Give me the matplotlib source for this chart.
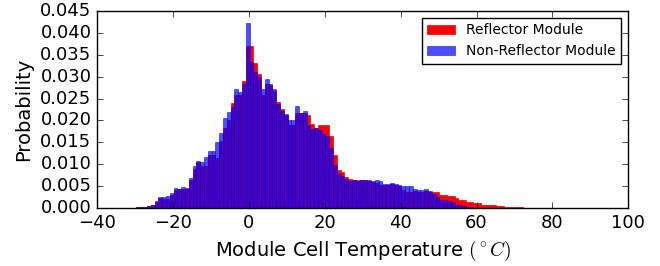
import numpy as np
import matplotlib
matplotlib.use('Agg')
import matplotlib.pyplot as plt
from matplotlib.ticker import MultipleLocator, FormatStrFormatter

# bin settings (1 degree bins)
bin_start = -30.8
bin_width = 1.0

# probability per bin, bins starting at -30.8 C
reflector = [
    0.0001, 0.0002, 0.0002, 0.0003, 0.0004, 0.0006, 0.0013, 0.0023, 0.0021, 0.0020,
    0.0030, 0.0041, 0.0044, 0.0043, 0.0044, 0.0064, 0.0090, 0.0105, 0.0097, 0.0096,
    0.0120, 0.0120, 0.0115, 0.0152, 0.0183, 0.0201, 0.0240, 0.0257, 0.0257, 0.0290,
    0.0370, 0.0370, 0.0330, 0.0306, 0.0258, 0.0282, 0.0281, 0.0267, 0.0242, 0.0227,
    0.0212, 0.0190, 0.0190, 0.0218, 0.0218, 0.0216, 0.0212, 0.0192, 0.0183, 0.0190,
    0.0190, 0.0190, 0.0164, 0.0121, 0.0087, 0.0082, 0.0070, 0.0067, 0.0065, 0.0065,
    0.0064, 0.0063, 0.0061, 0.0060, 0.0058, 0.0053, 0.0053, 0.0053, 0.0054, 0.0053,
    0.0050, 0.0042, 0.0037, 0.0037, 0.0039, 0.0037, 0.0037, 0.0039, 0.0037, 0.0037,
    0.0037, 0.0030, 0.0030, 0.0028, 0.0028, 0.0023, 0.0019, 0.0018, 0.0013, 0.0014,
    0.0011, 0.0011, 0.0008, 0.0007, 0.0006, 0.0006, 0.0005, 0.0005, 0.0003, 0.0003,
    0.0003, 0.0003, 0.0003, 0.0001,
]
non_reflector = [
    0.0001, 0.0002, 0.0002, 0.0003, 0.0005, 0.0007, 0.0015, 0.0025, 0.0025, 0.0027,
    0.0034, 0.0046, 0.0043, 0.0048, 0.0046, 0.0069, 0.0095, 0.0107, 0.0104, 0.0117,
    0.0130, 0.0130, 0.0150, 0.0172, 0.0206, 0.0219, 0.0230, 0.0272, 0.0265, 0.0283,
    0.0423, 0.0333, 0.0311, 0.0298, 0.0272, 0.0295, 0.0283, 0.0272, 0.0238, 0.0222,
    0.0215, 0.0201, 0.0201, 0.0233, 0.0218, 0.0222, 0.0190, 0.0180, 0.0183, 0.0177,
    0.0170, 0.0165, 0.0138, 0.0098, 0.0078, 0.0072, 0.0067, 0.0062, 0.0064, 0.0062,
    0.0064, 0.0064, 0.0064, 0.0061, 0.0064, 0.0062, 0.0054, 0.0055, 0.0057, 0.0055,
    0.0053, 0.0050, 0.0050, 0.0050, 0.0043, 0.0040, 0.0040, 0.0043, 0.0039, 0.0032,
    0.0026, 0.0019, 0.0019, 0.0015, 0.0013, 0.0008, 0.0006, 0.0005, 0.0003, 0.0002,
    0.0001, 0.0001, 0.0, 0.0, 0.0, 0.0, 0.0, 0.0, 0.0, 0.0,
    0.0, 0.0, 0.0, 0.0,
]

edges = bin_start + bin_width * np.arange(len(reflector) + 1)
centers = (edges[:-1] + edges[1:]) / 2

plt.style.use('classic')
plt.rcParams['figure.facecolor'] = 'white'
plt.rcParams['savefig.facecolor'] = 'white'

fig = plt.figure(figsize=(6.6, 2.66), dpi=100)
ax = fig.add_axes([0.147, 0.218, 0.805, 0.741])

ax.hist(centers, bins=edges, weights=reflector, color='r', edgecolor='r',
        linewidth=0.5, label='Reflector Module')
ax.hist(centers, bins=edges, weights=non_reflector, color='b', edgecolor='b',
        linewidth=0.5, alpha=0.7, label='Non-Reflector Module')

ax.set_xlim(-40, 100)
ax.set_ylim(0, 0.045)
ax.yaxis.set_major_locator(MultipleLocator(0.005))
ax.yaxis.set_major_formatter(FormatStrFormatter('%.3f'))
ax.tick_params(labelsize=13)

ax.set_xlabel(r'Module Cell Temperature $(^\circ C)$', fontsize=14)
ax.set_ylabel('Probability', fontsize=14)

ax.legend(loc='upper right', fontsize=10)

fig.savefig('out.png', dpi=100)
